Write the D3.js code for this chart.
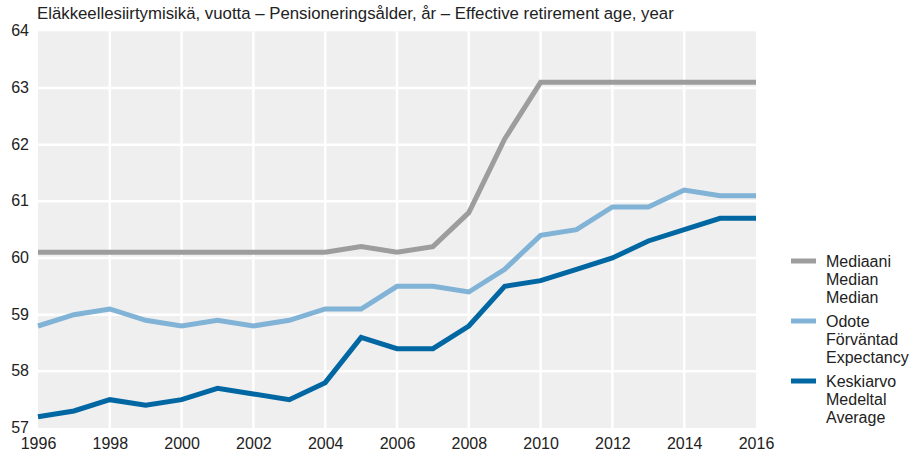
<!DOCTYPE html>
<meta charset="utf-8">
<head>
  <script src="https://cdn.jsdelivr.net/npm/d3@7"></script>
  <style>
    body { margin: 0; background: #fff; }
    text { font-family: "Liberation Sans", Arial, sans-serif; fill: #222; }
    .axis path, .axis line { display: none; }
    .axis text { font-size: 16px; }
  </style>
</head>
<body>
<script>
// Datat
var years = d3.range(1996, 2017);
var median = [60.1, 60.1, 60.1, 60.1, 60.1, 60.1, 60.1, 60.1, 60.1, 60.2, 60.1,
              60.2, 60.8, 62.1, 63.1, 63.1, 63.1, 63.1, 63.1, 63.1, 63.1];
var expectancy = [58.8, 59.0, 59.1, 58.9, 58.8, 58.9, 58.8, 58.9, 59.1, 59.1, 59.5,
                  59.5, 59.4, 59.8, 60.4, 60.5, 60.9, 60.9, 61.2, 61.1, 61.1];
var average = [57.2, 57.3, 57.5, 57.4, 57.5, 57.7, 57.6, 57.5, 57.8, 58.6, 58.4,
               58.4, 58.8, 59.5, 59.6, 59.8, 60.0, 60.3, 60.5, 60.7, 60.7];
var xTicks = d3.range(1996, 2017, 2);
var yTicks = [57, 58, 59, 60, 61, 62, 63, 64];
var seriesNames = [["Mediaani", "Median", "Median"],
                   ["Odote", "Förväntad", "Expectancy"],
                   ["Keskiarvo", "Medeltal", "Average"]];
var colors = ["#9d9d9d", "#80b3d6", "#0067a3"];
var title = "Eläkkeellesiirtymisikä, vuotta – Pensioneringsålder, år – Effective retirement age, year";

var W = 914, H = 459;
var pL = 38, pR = 756, pT = 31.3, pB = 428;

var x = d3.scaleLinear().domain([1996, 2016]).range([pL, pR]);
var y = d3.scaleLinear().domain([57, 64]).range([pB, pT]);

var svg = d3.select("body").append("svg")
  .attr("width", W).attr("height", H);

// tausta
svg.append("rect")
  .attr("x", pL).attr("y", pT)
  .attr("width", pR - pL).attr("height", pB - pT)
  .attr("fill", "#efefef");

// ruudukko
svg.append("g").selectAll("line").data(yTicks.slice(1, -1)).enter().append("line")
  .attr("x1", pL).attr("x2", pR)
  .attr("y1", function(d) { return y(d); }).attr("y2", function(d) { return y(d); })
  .attr("stroke", "#fff").attr("stroke-width", 2.5);
svg.append("g").selectAll("line").data(xTicks.slice(1, -1)).enter().append("line")
  .attr("y1", pT).attr("y2", pB)
  .attr("x1", function(d) { return x(d); }).attr("x2", function(d) { return x(d); })
  .attr("stroke", "#fff").attr("stroke-width", 2.5);

// akselit
svg.append("g").attr("class", "axis")
  .attr("transform", "translate(0," + pB + ")")
  .call(d3.axisBottom(x).tickValues(xTicks).tickFormat(d3.format("d")).tickSize(0).tickPadding(10));
svg.append("g").attr("class", "axis")
  .attr("transform", "translate(" + pL + ",0)")
  .call(d3.axisLeft(y).tickValues(yTicks).tickFormat(d3.format("d")).tickSize(0).tickPadding(9))
  .selectAll("text").attr("dy", "0.28em");

// otsikko
svg.append("text")
  .attr("x", pL - 1).attr("y", 19)
  .style("font-size", "16.8px")
  .text(title);

// viivat
var line = d3.line()
  .x(function(d, i) { return x(years[i]); })
  .y(function(d) { return y(d); });

[median, expectancy, average].forEach(function(s, k) {
  svg.append("path")
    .datum(s)
    .attr("d", line)
    .attr("fill", "none")
    .attr("stroke", colors[k])
    .attr("stroke-width", 5)
    .attr("stroke-linejoin", "miter");
});

// selite
var leg = svg.append("g");
seriesNames.forEach(function(names, k) {
  var cy = 261 + k * 60;
  leg.append("line")
    .attr("x1", 791).attr("x2", 816)
    .attr("y1", cy).attr("y2", cy)
    .attr("stroke", colors[k]).attr("stroke-width", 5);
  names.forEach(function(n, j) {
    leg.append("text")
      .attr("x", 826).attr("y", cy + j * 18)
      .attr("dy", "0.35em")
      .style("font-size", "16px")
      .text(n);
  });
});
</script>
</body>
